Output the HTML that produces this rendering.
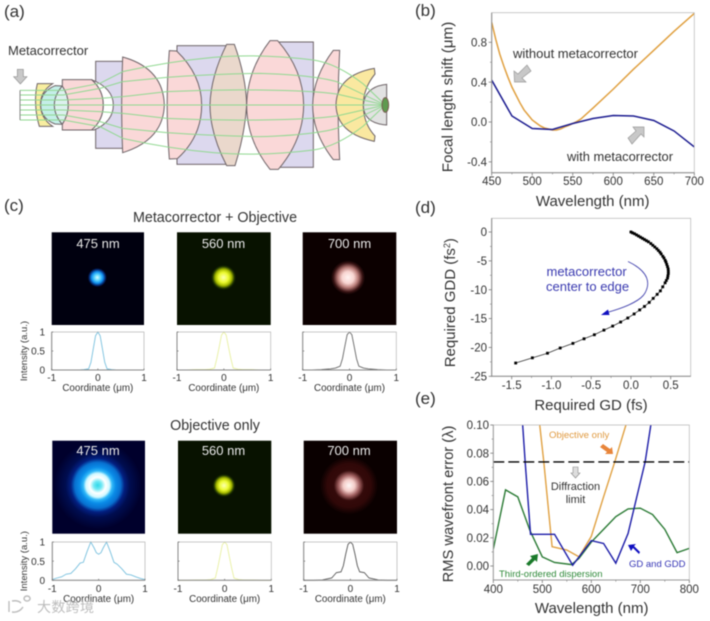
<!DOCTYPE html>
<html lang="en">
<head>
<meta charset="utf-8">
<title>Metacorrector figure</title>
<style>
html,body{margin:0;padding:0;background:#fff;width:710px;height:621px;overflow:hidden}
svg{display:block;font-family:"Liberation Sans","Noto Sans CJK SC",sans-serif;filter:blur(.45px)}
text{fill:#333}
</style>
</head>
<body>
<svg id="fig" xmlns="http://www.w3.org/2000/svg" width="710" height="621" viewBox="0 0 710 621">
<defs>
<radialGradient id="g1"><stop offset="0" stop-color="#d8fbff"/><stop offset=".3" stop-color="#60d8ff"/><stop offset=".6" stop-color="#1090f0"/><stop offset=".85" stop-color="#04246a"/><stop offset="1" stop-color="#00000f"/></radialGradient>
<radialGradient id="g2"><stop offset="0" stop-color="#fcffb0"/><stop offset=".4" stop-color="#ecfa30"/><stop offset=".65" stop-color="#a8bc00"/><stop offset=".88" stop-color="#1c3000"/><stop offset="1" stop-color="#081200"/></radialGradient>
<radialGradient id="g3"><stop offset="0" stop-color="#fff4f2"/><stop offset=".35" stop-color="#f8d4d0"/><stop offset=".6" stop-color="#b87c78"/><stop offset=".85" stop-color="#3a1414"/><stop offset="1" stop-color="#0c0000"/></radialGradient>
<radialGradient id="g4"><stop offset="0" stop-color="#30d8e8"/><stop offset=".09" stop-color="#70e8f4"/><stop offset=".18" stop-color="#ffffff"/><stop offset=".27" stop-color="#d0f8ff"/><stop offset=".33" stop-color="#30b8f8"/><stop offset=".41" stop-color="#0a8ce8"/><stop offset=".52" stop-color="#0870d0"/><stop offset=".61" stop-color="#031f80"/><stop offset=".73" stop-color="#000d50"/><stop offset="1" stop-color="#00002c"/></radialGradient>
<radialGradient id="g5"><stop offset="0" stop-color="#fff8f6"/><stop offset=".2" stop-color="#f4ccc8"/><stop offset=".36" stop-color="#a06060"/><stop offset=".52" stop-color="#340a0a"/><stop offset=".75" stop-color="#300808"/><stop offset="1" stop-color="#0a0000"/></radialGradient>
</defs>

<rect width="710" height="621" fill="#fff"/>

<!-- Panel a -->
<text x="4" y="17" font-size="17">(a)</text>
<text x="8" y="55" font-size="13">Metacorrector</text>
<g transform="scale(.33333)" stroke="#6e6468" stroke-width="3">
  <rect x="287" y="184" width="90" height="261" fill="#dcd8ee"/>
  <rect x="531" y="137" width="160" height="356" fill="#dcd8ee"/>
  <rect x="830" y="126" width="110" height="376" fill="#dcd8ee"/>
  <path d="M112,251 L158,251 Q120,275 122,315 Q122,355 158,379 L118,379 Q108,345 107,315 Q105,280 112,251Z" fill="#f8eea0"/>
  <path d="M165,257 L187,258 Q165,285 163,315 Q165,350 187,373 L165,372 Q122,355 122,315 Q122,275 165,257Z" fill="#c4eee8"/>
  <path d="M187,258 Q205,285 205,315 Q205,345 187,373 Q163,345 163,315 Q163,285 187,258Z" fill="#dcf0ee"/>
  <path d="M187,239 L275,239 Q310,270 310,315 Q310,360 275,390 L187,390 L187,373 Q205,345 205,315 Q205,285 187,258Z" fill="#fad8d8"/>
  <path d="M275,239 Q340,265 340,315 Q340,365 282,390 L275,390 Q310,360 310,315 Q310,270 275,239Z" fill="#fff"/>
  <path d="M368,171 Q490,205 493,315 Q490,420 368,458 Q362,315 368,171Z" fill="#fad8d8"/>
  <path d="M508,152 L530,153 Q605,225 605,315 Q605,410 532,476 L508,477 Q495,315 508,152Z" fill="#fad8d8"/>
  <path d="M680,133 L703,133 Q738,230 740,315 Q735,400 705,497 L680,497 Q630,400 630,315 Q632,230 680,133Z" fill="#ead8cc"/>
  <path d="M810,122 L833,122 Q910,210 911,315 Q910,420 835,508 L810,508 Q740,420 740,315 Q742,210 810,122Z" fill="#fad8d8"/>
  <path d="M1000,151 L1019,151 Q1010,315 1019,479 L1000,479 Q938,400 938,315 Q940,230 1000,151Z" fill="#fad8d8"/>
  <path d="M1123,205 L1125,222 Q1090,265 1090,315 Q1090,370 1125,408 L1123,424 Q1010,400 1008,315 Q1010,225 1123,205Z" fill="#fae8a0"/>
  <path d="M1160,253 L1160,375 Q1090,370 1090,315 Q1095,260 1160,253Z" fill="#e2e2e2"/>
  <g fill="none" stroke="#90d890" stroke-width="3">
    <path d="M60,271 L190,271 L300,250 L368,215 Q500,185 640,172 Q780,160 940,180 Q1010,190 1090,252 L1156,315"/>
    <path d="M60,285 L190,285 L300,265 L368,245 L500,232 Q640,222 780,220 Q940,225 1010,245 L1156,315"/>
    <path d="M60,300 L190,300 L300,295 L368,290 L500,275 Q640,268 780,270 Q940,272 1010,282 L1156,315"/>
    <path d="M60,315 L1156,315"/>
    <path d="M60,330 L190,330 L300,335 L368,340 L500,355 Q640,362 780,360 Q940,358 1010,348 L1156,315"/>
    <path d="M60,345 L190,345 L300,365 L368,385 L500,398 Q640,408 780,410 Q940,405 1010,385 L1156,315"/>
    <path d="M60,360 L190,360 L300,380 L368,415 Q500,445 640,458 Q780,470 940,450 Q1010,440 1090,378 L1156,315"/>
  </g>
  <path d="M60,271 V360" stroke="#888" fill="none"/>
  <ellipse cx="1156" cy="315" rx="10" ry="22" fill="#5f9a4f" stroke="#7a5a50"/>
  <path d="M52,208 H70 V230 H81 L61,252 L41,230 H52Z" fill="#c8c8c8" stroke="#909090" stroke-width="2"/>
</g>

<!-- Panel labels -->
<text x="415" y="16" font-size="17">(b)</text>
<text x="4" y="211" font-size="17">(c)</text>
<text x="415" y="213" font-size="17">(d)</text>
<text x="415" y="404" font-size="17">(e)</text>

<!-- Panel c titles -->
<text x="215" y="222" font-size="14.3" text-anchor="middle">Metacorrector + Objective</text>
<text x="215" y="430" font-size="14.3" text-anchor="middle">Objective only</text>

<!-- Psf images -->
<g>
  <rect x="51.7" y="232.3" width="92.3" height="92.7" fill="#00000f"/>
  <circle cx="97.3" cy="277.5" r="9.5" fill="url(#g1)"/>
  <rect x="177" y="232.3" width="93.7" height="92.7" fill="#081200"/>
  <circle cx="223.5" cy="277.5" r="12.5" fill="url(#g2)"/>
  <rect x="302.7" y="232.3" width="93.6" height="92.7" fill="#0c0000"/>
  <circle cx="348" cy="277.5" r="17" fill="url(#g3)"/>
  <rect x="52.3" y="440.7" width="92.7" height="93" fill="#00002c"/>
  <circle cx="97.7" cy="485.3" r="44" fill="url(#g4)"/>
  <rect x="178" y="440.7" width="93.3" height="93" fill="#081200"/>
  <circle cx="224" cy="485.5" r="11.5" fill="url(#g2)"/>
  <rect x="303.7" y="440.7" width="93.3" height="93" fill="#0a0000"/>
  <circle cx="349" cy="485.5" r="29" fill="url(#g5)"/>
  <g font-size="13" text-anchor="middle">
    <text x="98" y="248" style="fill:#e8e8e8">475 nm</text>
    <text x="223.5" y="248" style="fill:#e8e8e8">560 nm</text>
    <text x="349.5" y="248" style="fill:#e8e8e8">700 nm</text>
    <text x="98" y="455" style="fill:#e8e8e8">475 nm</text>
    <text x="223.5" y="455" style="fill:#e8e8e8">560 nm</text>
    <text x="349" y="455" style="fill:#e8e8e8">700 nm</text>
  </g>
</g>

<g id="charts"></g>

<!-- Panel b annotations -->
<text x="513" y="58" font-size="13">without metacorrector</text>
<text x="567" y="161" font-size="12.9">with metacorrector</text>
<path d="M514.5,82 L514,71 L518,74 L527,65 L531,71 L522,78 L526,82Z" fill="#c8c8c8" stroke="#999" stroke-width=".7"/>
<path d="M644,127 L644,137 L641,134 L632,144 L628,138 L636,131 L633,127Z" fill="#c8c8c8" stroke="#999" stroke-width=".7"/>

<!-- Panel d annotations -->
<text x="546.5" y="276" font-size="13" style="fill:#3a3ab0">metacorrector</text>
<text x="546" y="291" font-size="13" style="fill:#3a3ab0">center to edge</text>
<path d="M628,261.5 C650,272 650,284 645,293 C640,302 620,309 605,313" fill="none" stroke="#4a4ab0" stroke-width=".9"/>
<path d="M601,315 L608,309.5 L609.5,315Z" fill="#1010c0"/>

<!-- Panel e annotations -->
<text x="549" y="438" font-size="9.6" style="fill:#e09a40">Objective only</text>
<path d="M600,447 L603,444 L610,449 L612,447 L613,454 L605,454 L607,452Z" fill="#e8853a"/>
<path d="M573,467 H578 V473 H580 L575.5,478 L571,473 H573Z" fill="#ddd" stroke="#888" stroke-width=".6"/>
<text x="575.5" y="490" font-size="11" text-anchor="middle">Diffraction</text>
<text x="575.5" y="503" font-size="11" text-anchor="middle">limit</text>
<text x="499" y="577" font-size="9.5" style="fill:#2f8a3a">Third-ordered dispersion</text>
<text x="629" y="567" font-size="9.5" style="fill:#3535b5">GD and GDD</text>
<path d="M526,564 L532,558 L530,556 L538,554 L537,562 L535,560 L529,566Z" fill="#1a7a2a"/>
<path d="M639,554 L633,548 L631,551 L628,545 L636,544 L634,546 L640,552Z" fill="#1010c0"/>

<!-- Watermark -->
<g>
  <path d="M9,601 V612 M12,601 Q18,600 21,603 M12,612 Q19,613 23,607 M27,601 a3,2.5 0 1 1 .1,0" fill="none" stroke="#bcbcbc" stroke-width="1.4"/>
  <text x="37" y="612" font-size="14" style="fill:#bdbdbd" textLength="57">大数跨境</text>
</g>

<script>
// Panel b data
const bWavelengthOrange=[450,455,460,465,470,475,480,485,490,495,500,505,510,515,520,525,530,535,540,545,550,555,560,575,600,625,650,675,700];
const bShiftOrange=[1.0,.83,.68,.56,.45,.35,.27,.19,.12,.07,.02,-.01,-.04,-.06,-.07,-.08,-.08,-.07,-.05,-.035,-.015,.005,.03,.14,.33,.53,.72,.91,1.09];
const bWavelengthBlue=[450,475,500,525,550,575,600,625,650,675,700];
const bShiftBlue=[.42,.06,-.065,-.075,-.015,.035,.065,.06,.015,-.09,-.25];
const bXTicks=[450,500,550,600,650,700];
const bYTicks=[-0.4,0,0.4,0.8];
// Panel d data
const dGD=[-1.45,-1.24,-1.05,-.89,-.73,-.59,-.46,-.34,-.23,-.13,-.04,.04,.11,.17,.23,.28,.33,.37,.40,.43,.445,.46,.465,.47,.47,.468,.46,.45,.44,.43,.415,.40,.38,.365,.345,.325,.30,.275,.25,.22,.195,.17,.145,.12,.095,.07,.045,.02,0];
const dGDD=[-22.7,-21.8,-21,-20.1,-19.3,-18.5,-17.8,-17,-16.3,-15.6,-14.9,-14.2,-13.5,-12.9,-12.2,-11.5,-10.8,-10.2,-9.5,-8.8,-8.4,-8,-7.6,-7.2,-6.8,-6.4,-6,-5.6,-5.2,-4.9,-4.5,-4.2,-3.8,-3.5,-3.2,-2.9,-2.6,-2.3,-2,-1.7,-1.5,-1.3,-1.1,-.9,-.7,-.5,-.3,-.15,0];
const dXTicks=[-1.5,-1,-0.5,0,0.5];
const dXTickLabels=['-1.5','-1.0','-0.5','0.0','0.5'];
const dYTicks=[0,-5,-10,-15,-20,-25];
// Panel e data
const eWavelengthGreen=[400,425,450,475,500,525,560,575,600,625,650,675,700,725,750,775,800];
const eErrorGreen=[.012,.054,.049,.025,.0065,.0025,.001,.0055,.017,.026,.035,.0405,.041,.0365,.026,.0095,.0125];
const eWavelengthBlue=[458,465,476,525,562,600,625,650,675,710,725];
const eErrorBlue=[.11,.074,.0225,.0225,.0005,.018,.016,.002,.023,.074,.108];
const eWavelengthOrange=[490,503,520,550,575,600,625,648,675];
const eErrorOrange=[.115,.074,.0137,.0113,.0065,.021,.049,.074,.105];
const eDiffractionLimit=.0738;
const eXTicks=[400,500,600,700,800];
const eYTicks=[0,.02,.04,.06,.08,.1];
const eYTickLabels=['0.00','0.02','0.04','0.06','0.08','0.10'];
// Panel c profile data
const cCoord=[-1,-.8,-.6,-.4,-.3,-.2,-.15,-.1,-.05,0,.05,.1,.15,.2,.3,.4,.6,.8,1];
const c475Top=[0,0,0,0,.01,.03,.2,.55,.9,1,.9,.55,.2,.03,.01,0,0,0,0];
const c560Top=[0,0,.01,.01,.02,.05,.3,.6,.92,1,.92,.6,.3,.05,.02,.01,.01,0,0];
const c700Top=[0,0,.01,.03,.05,.1,.3,.62,.93,1,.93,.62,.3,.1,.05,.03,.01,0,0];
const c560Bottom=[0,0,.01,.01,.02,.06,.32,.62,.93,1,.93,.62,.32,.06,.02,.01,.01,0,0];
const c700Bottom=[0,0,.01,.06,.2,.22,.38,.68,.94,1,.94,.68,.38,.22,.2,.06,.01,0,0];
const cCoord475=[-1,-.9,-.8,-.7,-.6,-.5,-.4,-.33,-.25,-.17,-.1,-.05,0,.05,.1,.17,.25,.33,.4,.5,.6,.7,.8,.9,1];
const c475Bottom=[.02,.06,.09,.16,.18,.3,.45,.47,.75,1,.85,.72,.68,.72,.85,1,.75,.47,.42,.3,.16,.14,.09,.05,.02];
const cXTicks=[-1,0,1];
const cYTicks=[0,.5,1];

const NS='http://www.w3.org/2000/svg';
const root=document.getElementById('charts');
function mk(tag,parent,attrs,txt){
  const n=document.createElementNS(NS,tag);
  for(const k in attrs)n.setAttribute(k,attrs[k]);
  if(txt!==undefined)n.textContent=txt;
  parent.appendChild(n);
  return n;
}
function scale(d0,d1,r0,r1){return v=>r0+(v-d0)*(r1-r0)/(d1-d0);}
function pts(xs,ys,sx,sy){return xs.map((x,i)=>sx(x).toFixed(2)+','+sy(ys[i]).toFixed(2)).join(' ');}
function clipFor(id,x0,y0,w,h){
  const cp=mk('clipPath',root,{id:id});
  mk('rect',cp,{x:x0,y:y0,width:w,height:h});
}
function frame(parent,box,color){
  const f=mk('rect',parent,{x:box.x0,y:box.y0,width:box.x1-box.x0,height:box.y1-box.y0,fill:'none',stroke:'#b4b4b4','stroke-width':.7});
  
  
  const a=mk('path',parent,{d:'M'+box.x0+','+box.y0+' V'+box.y1+' H'+box.x1,fill:'none',stroke:color,'stroke-width':1});
  
  
}
function minorMarks(parent,box,sx,sy,xt,yt,o){
  const ext=o.minorLen;
  xt.slice(1).forEach((v,i)=>{
    const mid=(v+xt[i])/2;
    const t=mk('line',parent,{x1:sx(mid),x2:sx(mid),y1:box.y1,y2:box.y1+ext,stroke:'#888','stroke-width':.7});
    
    
  });
  yt.slice(1).forEach((v,i)=>{
    const mid=(v+yt[i])/2;
    const t=mk('line',parent,{x1:box.x0,x2:box.x0-ext,y1:sy(mid),y2:sy(mid),stroke:'#888','stroke-width':.7});
    
    
  });
}
function ticks(parent,box,sx,sy,xt,yt,xl,yl,o){
  const dir=o.inward?-1:1;
  xt.forEach((v,i)=>{
    const t=mk('line',parent,{x1:sx(v),x2:sx(v),y1:box.y1,y2:box.y1+dir*o.len,stroke:'#777','stroke-width':.8});
    
    
    const l=mk('text',parent,{x:sx(v),y:o.xBase,'font-size':o.fs,'text-anchor':'middle'},xl[i]);
    
    
  });
  yt.forEach((v,i)=>{
    const t=mk('line',parent,{x1:box.x0,x2:box.x0-dir*o.len,y1:sy(v),y2:sy(v),stroke:'#777','stroke-width':.8});
    
    
    if(yl){
      const l=mk('text',parent,{x:o.yRight,y:sy(v)+o.fs*.36,'font-size':o.fs,'text-anchor':'end'},yl[i]);
      
      
    }
  });
  if(o.minorLen)minorMarks(parent,box,sx,sy,xt,yt,o);
}
function rotText(parent,x,y,size,str){
  return mk('text',parent,{x:x,y:y,'font-size':size,'text-anchor':'middle',transform:'rotate(-90 '+x+' '+y+')'},str);
}

// ---- Panel b
(function(){
  const g=mk('g',root,{});
  
  
  const box={x0:491.7,x1:694.3,y0:12.7,y1:172.7};
  const sx=scale(450,700,box.x0,box.x1), sy=scale(0,0.8,122,42.3);
  clipFor('clipB',box.x0,box.y0,box.x1-box.x0,box.y1-box.y0);
  const o=mk('polyline',g,{points:pts(bWavelengthOrange,bShiftOrange,sx,sy),fill:'none',stroke:'#e0a040','stroke-width':1.5,'clip-path':'url(#clipB)'});
  
  
  const b=mk('polyline',g,{points:pts(bWavelengthBlue,bShiftBlue,sx,sy),fill:'none',stroke:'#1c1c90','stroke-width':1.5,'clip-path':'url(#clipB)'});
  
  
  frame(g,box,'#888');
  ticks(g,box,sx,sy,bXTicks,bYTicks,bXTicks.map(String),bYTicks.map(v=>v.toFixed(1)),{len:3,minorLen:1.7,xBase:185,fs:11.5,yRight:487});
  const xt=mk('text',g,{x:592.7,y:206,'font-size':15,'text-anchor':'middle'},'Wavelength (nm)');
  
  
  const yt=rotText(g,452.5,97,15.2,'Focal length shift (μm)');
  
  
})();

// ---- Panel d
(function(){
  const g=mk('g',root,{});
  
  
  const box={x0:491.7,x1:690.7,y0:218.3,y1:376.3};
  const sx=scale(-1.5,0.5,511.7,670.7), sy=scale(0,-25,232,376.3);
  const l=mk('polyline',g,{points:pts(dGD,dGDD,sx,sy),fill:'none',stroke:'#333','stroke-width':.8});
  
  
  dGD.forEach((v,i)=>{
    const m=mk('rect',g,{x:sx(v)-1.4,y:sy(dGDD[i])-1.4,width:2.8,height:2.8,fill:'#000'});
    
    
  });
  frame(g,box,'#888');
  ticks(g,box,sx,sy,dXTicks,dYTicks,dXTickLabels,dYTicks.map(String),{len:3,minorLen:1.7,xBase:389,fs:11.5,yRight:487});
  const xt=mk('text',g,{x:591,y:410,'font-size':15,'text-anchor':'middle'},'Required GD (fs)');
  
  
  const yt=mk('text',g,{x:0,y:0,'font-size':15,'text-anchor':'middle',transform:'translate(455 302.7) rotate(-90)'},'Required GDD (fs');
  
  
  const s1=mk('tspan',yt,{dy:-5,'font-size':9},'2');
  
  
  const s2=mk('tspan',yt,{dy:5},')');
  
  
})();

// ---- Panel e
(function(){
  const g=mk('g',root,{});
  
  
  const box={x0:493.3,x1:689.3,y0:425,y1:580};
  const sx=scale(400,800,box.x0,box.x1), sy=scale(0,.1,566,425);
  clipFor('clipE',box.x0,box.y0,box.x1-box.x0,box.y1-box.y0);
  const o=mk('polyline',g,{points:pts(eWavelengthOrange,eErrorOrange,sx,sy),fill:'none',stroke:'#e0a040','stroke-width':1.4,'clip-path':'url(#clipE)'});
  
  
  const gr=mk('polyline',g,{points:pts(eWavelengthGreen,eErrorGreen,sx,sy),fill:'none',stroke:'#2a7a34','stroke-width':1.4,'clip-path':'url(#clipE)'});
  
  
  const b=mk('polyline',g,{points:pts(eWavelengthBlue,eErrorBlue,sx,sy),fill:'none',stroke:'#1c1ca8','stroke-width':1.4,'clip-path':'url(#clipE)'});
  
  
  const d=mk('line',g,{x1:box.x0,x2:box.x1,y1:sy(eDiffractionLimit),y2:sy(eDiffractionLimit),stroke:'#000','stroke-width':1.4,'stroke-dasharray':'11 4'});
  
  
  frame(g,box,'#999');
  ticks(g,box,sx,sy,eXTicks,eYTicks,eXTicks.map(String),eYTickLabels,{len:3,minorLen:1.7,xBase:593,fs:11.5,yRight:489});
  const xt=mk('text',g,{x:591.7,y:613,'font-size':15,'text-anchor':'middle'},'Wavelength (nm)');
  
  
  const yt=rotText(g,453,504,14.7,'RMS wavefront error (λ)');
  
  
})();

// ---- Panel c profiles
function profile(x0,x1,y0,y1,xs,ys,color,withY,xBase,titleBase,name){
  const g=mk('g',root,{});
  
  
  const box={x0:x0,x1:x1,y0:y0,y1:y1};
  const sx=scale(-1,1,x0,x1), sy=scale(0,1,y1,y0);
  const l=mk('polyline',g,{points:pts(xs,ys,sx,sy),fill:'none',stroke:color,'stroke-width':.9});
  
  
  frame(g,box,'#888');
  ticks(g,box,sx,sy,cXTicks,cYTicks,cXTicks.map(String),withY?cYTicks.map(String):null,{len:1.5,inward:true,xBase:xBase,fs:10,yRight:45});
  const t=mk('text',g,{x:(x0+x1)/2,y:titleBase,'font-size':9.8,'text-anchor':'middle'},'Coordinate (μm)');
  
  
  if(withY){
    const yt=rotText(g,27,(y0+y1)/2,9.5,'Intensity (a.u.)');
    
    
  }
}
profile(51.7,144,332,370,cCoord,c475Top,'#78c0de',true,381,391,'profile-475-top');
profile(177,270.7,332,370,cCoord,c560Top,'#e8f0a0',false,381,391,'profile-560-top');
profile(302.7,396.3,332,370,cCoord,c700Top,'#666',false,381,391,'profile-700-top');
profile(52.3,145,542,580.3,cCoord475,c475Bottom,'#78c0de',true,592,602,'profile-475-bottom');
profile(178,271.3,542,580.3,cCoord,c560Bottom,'#e8f0a0',false,592,602,'profile-560-bottom');
profile(303.7,397,542,580.3,cCoord,c700Bottom,'#555',false,592,602,'profile-700-bottom');
</script>
</svg>
</body>
</html>
